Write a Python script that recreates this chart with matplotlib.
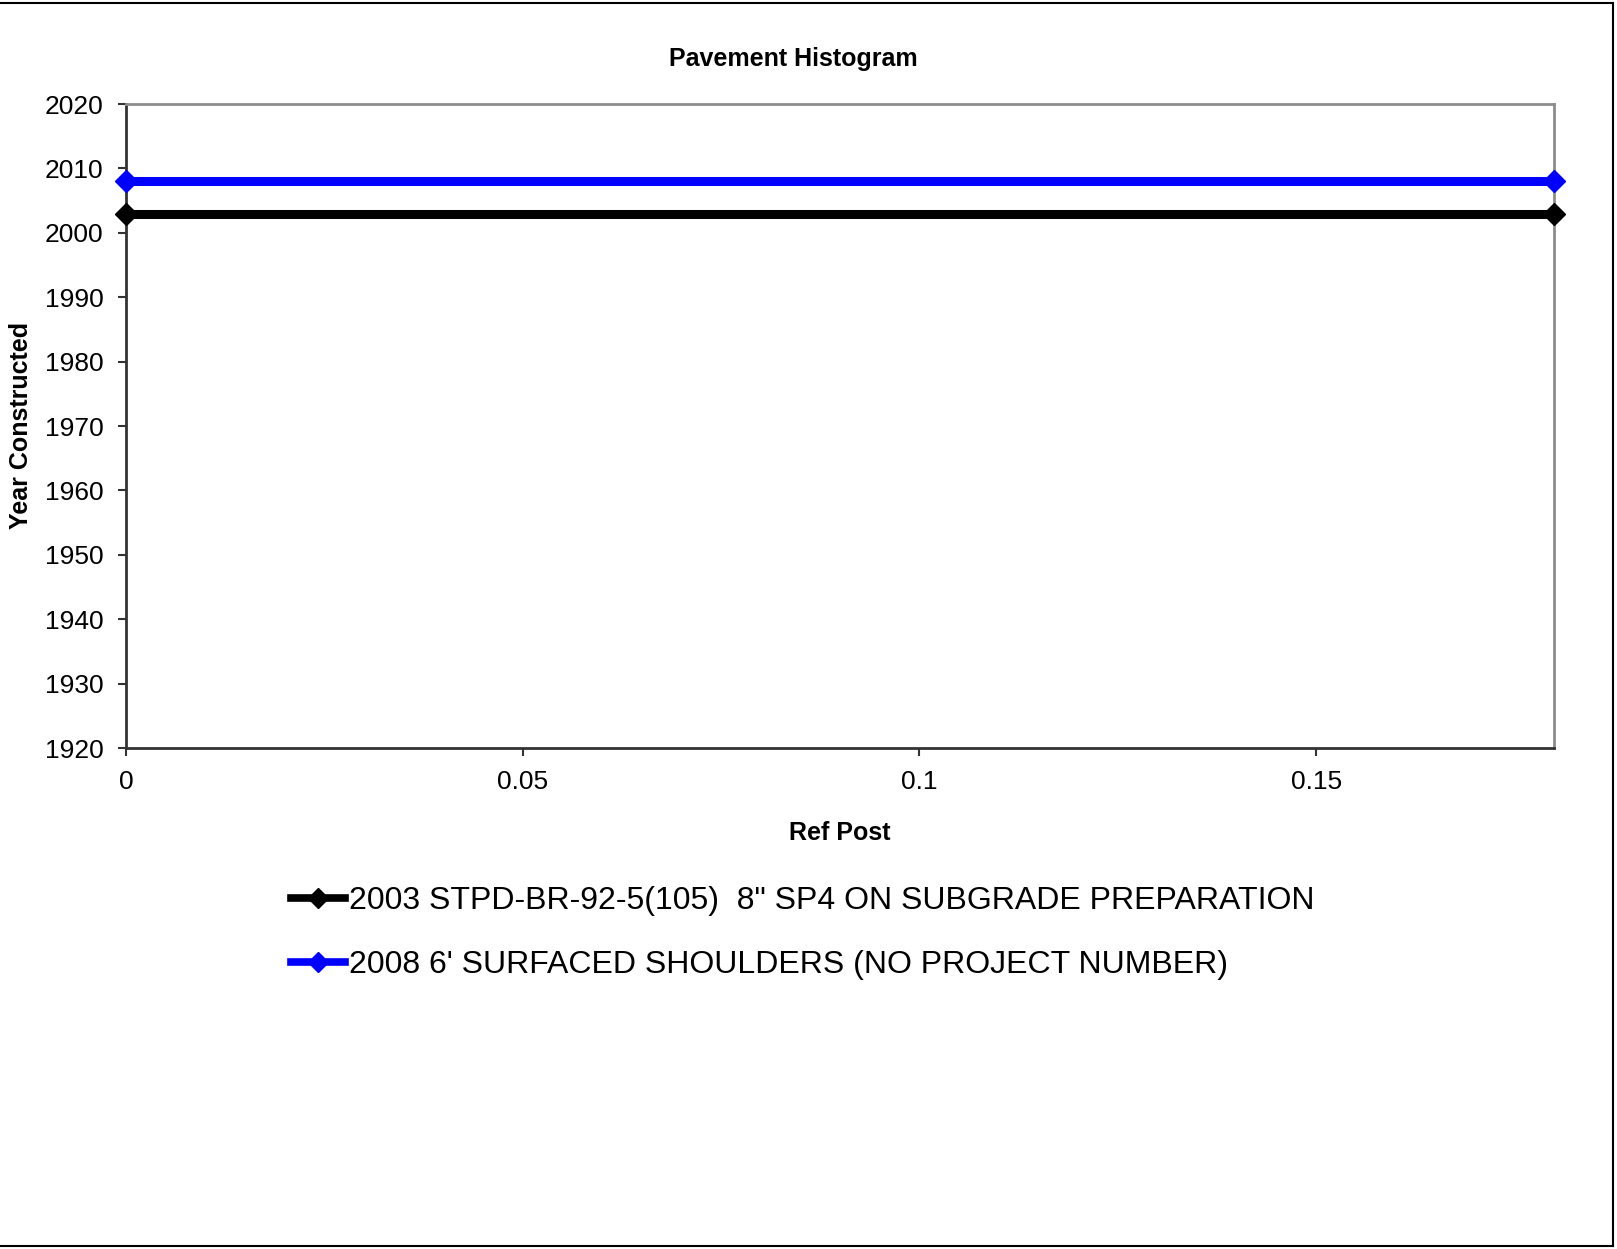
import matplotlib.pyplot as plt
from matplotlib.lines import Line2D

plt.rcParams['font.family'] = ['Liberation Sans', 'DejaVu Sans']

# Data
ref_post = [0, 0.18]
year_black = [2003, 2003]
year_blue = [2008, 2008]
labels = ['2003 STPD-BR-92-5(105)  8" SP4 ON SUBGRADE PREPARATION',
          "2008 6' SURFACED SHOULDERS (NO PROJECT NUMBER)"]
x_ticks = [0, 0.05, 0.1, 0.15]
x_ticklabels = ['0', '0.05', '0.1', '0.15']
y_ticks = list(range(1920, 2021, 10))

fig = plt.figure(figsize=(16.17, 12.49), dpi=100)
ax = fig.add_axes([0.0779, 0.4011, 0.8832, 0.5156])

ax.plot(ref_post, year_black, color='black', lw=6.5, marker='D', ms=11.5,
        solid_capstyle='butt', clip_on=False, zorder=3)
ax.plot(ref_post, year_blue, color='#0000ff', lw=6.5, marker='D', ms=11.5,
        solid_capstyle='butt', clip_on=False, zorder=3)

ax.set_xlim(0, 0.18)
ax.set_ylim(1920, 2020)
ax.set_xticks(x_ticks)
ax.set_xticklabels(x_ticklabels)
ax.set_yticks(y_ticks)
ax.tick_params(axis='both', labelsize=19, length=6, width=1.5, color='#333333')
ax.tick_params(axis='y', pad=10)
ax.tick_params(axis='x', pad=10)

for s in ['left', 'bottom']:
    ax.spines[s].set_color('#333333')
    ax.spines[s].set_linewidth(2)
for s in ['top', 'right']:
    ax.spines[s].set_color('#8c8c8c')
    ax.spines[s].set_linewidth(2)

fig.text(0.4904, 0.9527, 'Pavement Histogram', ha='center', va='center',
         fontsize=18, fontweight='bold')
fig.text(0.5195, 0.3330, 'Ref Post', ha='center', va='center',
         fontsize=18, fontweight='bold')
fig.text(0.013, 0.659, 'Year Constructed', ha='center', va='center',
         rotation=90, fontsize=18, fontweight='bold')

handles = [Line2D([], [], color='black', lw=5.5, marker='D', ms=10),
           Line2D([], [], color='#0000ff', lw=5.5, marker='D', ms=10)]
fig.legend(handles, labels, loc='upper left', bbox_to_anchor=(0.18, 0.2904),
           frameon=False, fontsize=23, handlelength=1.7, handletextpad=0.1,
           borderpad=0, borderaxespad=0, labelspacing=1.07)

# outer chart border
fig.add_artist(Line2D([0, 0.9975], [0.9975, 0.9975], color='black', lw=1.5))
fig.add_artist(Line2D([0.9975, 0.9975], [0.9975, 0.0025], color='black', lw=1.5))
fig.add_artist(Line2D([0, 0.9975], [0.0025, 0.0025], color='black', lw=1.5))

fig.savefig('out.png', dpi=100)
